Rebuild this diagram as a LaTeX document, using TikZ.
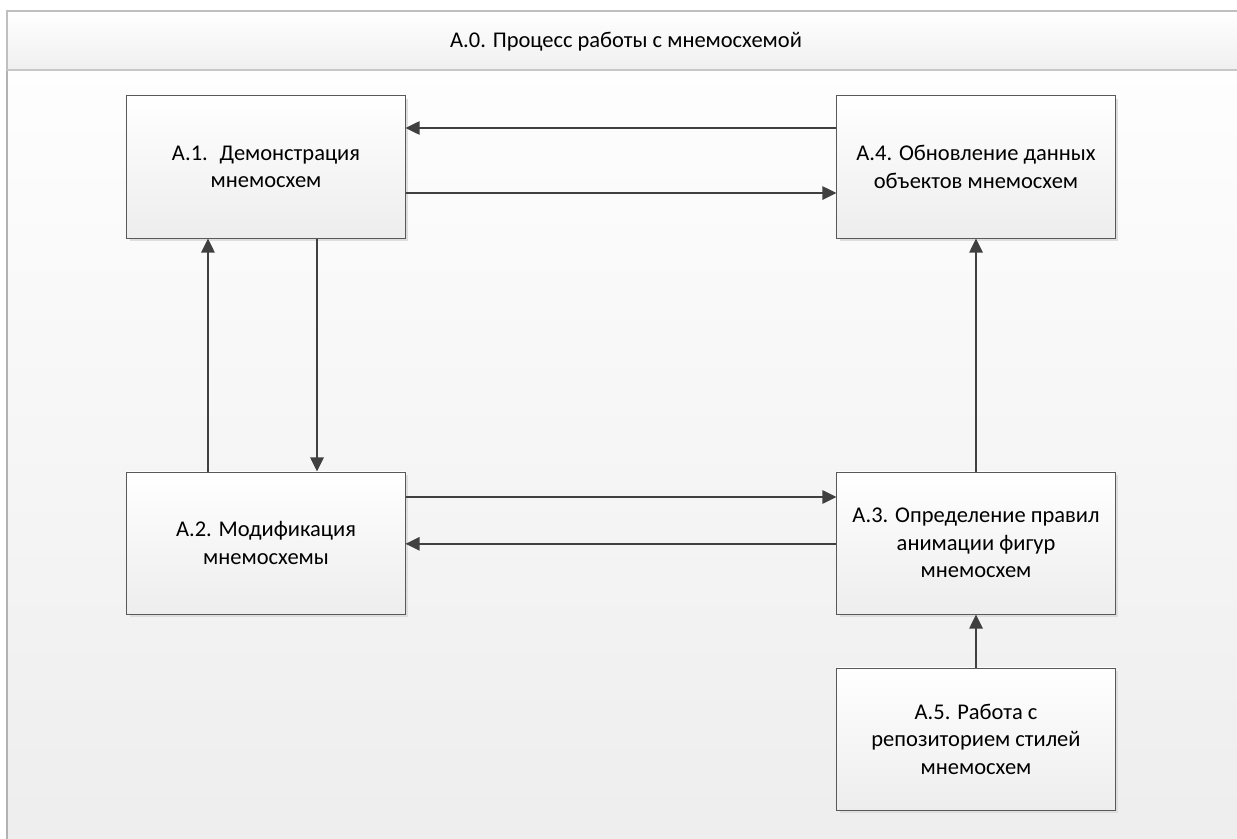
\documentclass[tikz,border=0pt]{standalone}
\usepackage{fontspec}
\setmainfont{Carlito}
\usetikzlibrary{arrows.meta,shadows}
\begin{document}
\begin{tikzpicture}
  [x=0.025cm,y=-0.025cm,
   every node/.style={font=\fontsize{16}{19.5}\selectfont,align=center},
   func/.style={draw=black!65,line width=0.7pt,top color=white,bottom color=black!7,
     minimum width=6.95cm,minimum height=3.55cm,
     drop shadow={shadow xshift=0.08cm,shadow yshift=-0.08cm,fill=black!13,opacity=1}},
   arr/.style={draw=black!75,line width=1.2pt,-{Triangle[length=10pt,width=9.5pt]}}]
  \useasboundingbox (0,0) rectangle (1237,838);
  \fill[white] (0,0) rectangle (1237,838);
  \draw[black!30,line width=0.8pt,top color=white,bottom color=black!7] (7,11) rectangle (1260,860);
  \draw[black!25,line width=0.8pt,top color=white,bottom color=black!6] (7,11) rectangle (1260,70);
  \draw[black!22,line width=1.2pt] (7,70) -- (1260,70);
  \node (title) at (626,42) {А.0. Процесс работы с мнемосхемой};
  \node[func] (a1) at (266,167) {А.1.~ Демонстрация\\мнемосхем};
  \node[func] (a4) at (976,167) {А.4. Обновление данных\\объектов мнемосхем};
  \node[func] (a2) at (266,543) {А.2. Модификация\\мнемосхемы};
  \node[func] (a3) at (976,543) {А.3. Определение правил\\анимации фигур\\мнемосхем};
  \node[func] (a5) at (976,739) {А.5. Работа с\\репозиторием стилей\\мнемосхем};
  \foreach \source/\sa/\dest/\da/\dy in {a4/west/a1/east/0.975,a1/east/a4/west/-0.65,
                                         a2/east/a3/west/1.15,a3/west/a2/east/-0.02}
   \draw[arr] ([yshift=\dy cm]\source.\sa) -- ([yshift=\dy cm]\dest.\da);
  \draw[arr] ([xshift=-1.45cm]a2.north) -- ([xshift=-1.45cm]a1.south);
  \draw[arr] ([xshift=1.275cm]a1.south) -- ([xshift=1.275cm]a2.north);
  \draw[arr] (a3) -- (a4);
  \draw[arr] (a5) -- (a3);
\end{tikzpicture}
\end{document}
